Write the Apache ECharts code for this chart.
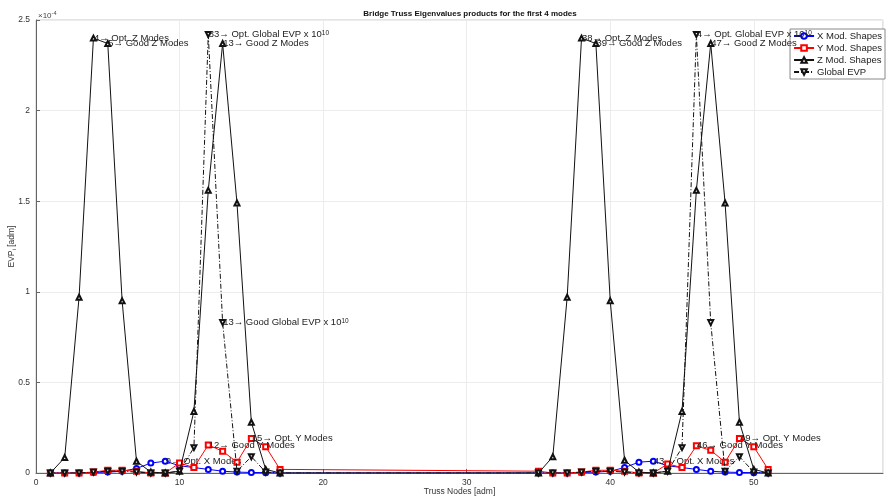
<!DOCTYPE html>
<html>
<head>
<meta charset="utf-8">
<script src="https://cdn.jsdelivr.net/npm/echarts@6/dist/echarts.min.js"></script>
<style>
html,body{margin:0;padding:0;background:#fff;}
#chart{width:888px;height:499px;}
</style>
</head>
<body>
<div id="chart"></div>
<script>
// Truss nodes (two bridge groups)
const nodes = [1,2,3,4,5,6,7,8,9,10,11,12,13,14,15,16,17,
               35,36,37,38,39,40,41,42,43,44,45,46,47,48,49,50,51];
// values in units of 1e-4
const xModes = [0,0,0,0.003,0.005,0.01,0.025,0.055,0.065,0.04,0.03,0.02,0.01,0.005,0.003,0.002,0,
                0,0,0,0.003,0.005,0.01,0.03,0.06,0.065,0.04,0.03,0.02,0.01,0.005,0.003,0.002,0];
const yModes = [0,0,0,0.005,0.015,0.015,0.01,0,0,0.055,0.03,0.155,0.12,0.06,0.19,0.145,0.02,
                0.01,0,0,0.005,0.015,0.015,0.01,0,0,0.05,0.03,0.15,0.125,0.06,0.19,0.145,0.02];
const zModes = [0,0.085,0.97,2.40,2.37,0.95,0.065,0.005,0,0.01,0.34,1.56,2.37,1.49,0.28,0.02,0,
                0,0.09,0.97,2.40,2.37,0.95,0.07,0.005,0,0.01,0.34,1.56,2.37,1.49,0.28,0.02,0];
const globalEVP = [0,0,0,0.005,0.01,0.01,0.005,0,0,0.01,0.14,2.42,0.83,0.01,0.09,0.005,0,
                   0,0,0,0.005,0.01,0.01,0.005,0,0,0.01,0.14,2.42,0.83,0.01,0.09,0.005,0];
const seriesNames = ['X Mod. Shapes','Y Mod. Shapes','Z Mod. Shapes','Global EVP'];
const titleText = 'Bridge Truss Eigenvalues products for the first 4 modes';
const yTicks = [0,0.5,1,1.5,2,2.5];

// annotations: [seriesIndex, node, text]
const annotations = [
  [2, 4, '4\u2192 Opt. Z Modes'],
  [2, 5, '5\u2192 Good Z Modes'],
  [3, 12, '33\u2192 Opt. Global EVP x 10{sup|10}'],
  [2, 13, '13\u2192 Good Z Modes'],
  [3, 13, '13\u2192 Good Global EVP x 10{sup|10}'],
  [0, 9, '9\u2192 Opt. X Modes'],
  [1, 12, '12\u2192 Good Y Modes'],
  [1, 15, '15\u2192 Opt. Y Modes'],
  [2, 38, '38\u2192 Opt. Z Modes'],
  [2, 39, '39\u2192 Good Z Modes'],
  [3, 46, '4\u2192 Opt. Global EVP x 10{sup|10}'],
  [2, 47, '47\u2192 Good Z Modes'],
  [0, 43, '43\u2192 Opt. X Modes'],
  [1, 46, '46\u2192 Good Y Modes'],
  [1, 49, '49\u2192 Opt. Y Modes']
];

const FONT = 'Liberation Sans, Arial, Helvetica, sans-serif';
const allVals = [xModes, yModes, zModes, globalEVP];

function buildData(si) {
  return nodes.map((n, i) => {
    const ann = annotations.find(a => a[0] === si && a[1] === n);
    const item = { value: [n, allVals[si][i]] };
    if (ann) {
      item.label = {
        show: true, position: 'right', distance: -3,
        formatter: ann[2], fontFamily: FONT, fontSize: 9.5, color: '#222',
        rich: { sup: { fontSize: 6.5, verticalAlign: 'top', lineHeight: 8, padding: [0,0,6,0], fontFamily: FONT, color: '#222' } }
      };
    }
    return item;
  });
}

const chart = echarts.init(document.getElementById('chart'), null, {renderer: 'canvas'});
const option = {
  animation: false,
  backgroundColor: '#fff',
  title: {
    text: titleText, left: 465, top: 5, textAlign: 'center',
    textStyle: { fontFamily: FONT, fontSize: 8, fontWeight: 'bold', color: '#111' }
  },
  legend: {
    orient: 'vertical', right: 3, top: 29,
    data: seriesNames,
    backgroundColor: '#fff', borderColor: '#888', borderWidth: 1,
    padding: [2, 3, 2, 3], itemGap: 2, itemWidth: 20, itemHeight: 7,
    itemStyle: { borderWidth: 1 },
    textStyle: { fontFamily: FONT, fontSize: 9.5, color: '#222', padding: [0,0,0,-2] }
  },
  grid: { left: 36, right: 5, top: 20, bottom: 26, containLabel: false, outerBoundsMode: 'none',
          show: true, borderColor: '#c8c8c8', borderWidth: 1 },
  xAxis: {
    type: 'value', min: 0, max: 59, interval: 10,
    name: 'Truss Nodes [adm]', nameLocation: 'middle', nameGap: 14, nameMoveOverlap: false,
    nameTextStyle: { fontFamily: FONT, fontSize: 8.5, color: '#333' },
    axisLine: { show: true, onZero: false, lineStyle: { color: '#666', width: 1 } },
    axisTick: { show: true, inside: true, length: 4, lineStyle: { color: '#666' } },
    axisLabel: { fontFamily: FONT, fontSize: 8.5, color: '#333', margin: 5, showMaxLabel: false },
    splitLine: { show: true, lineStyle: { color: '#ececec', width: 1 } }
  },
  yAxis: {
    type: 'value', min: 0, max: 2.5, interval: 0.5,
    name: 'EVP{sub|i} [adm]', nameLocation: 'middle', nameGap: 19, nameRotate: 90, nameMoveOverlap: false,
    nameTextStyle: { fontFamily: FONT, fontSize: 8.5, color: '#333',
      rich: { sub: { fontSize: 6, verticalAlign: 'bottom', padding: [4,0,0,0], fontFamily: FONT, color: '#333' } } },
    axisLine: { show: true, lineStyle: { color: '#666', width: 1 } },
    axisTick: { show: true, inside: true, length: 4, lineStyle: { color: '#666' } },
    axisLabel: { fontFamily: FONT, fontSize: 8.5, color: '#333', margin: 6,
      formatter: v => (yTicks.indexOf(v) >= 0 ? String(v) : '') },
    splitLine: { show: true, lineStyle: { color: '#ececec', width: 1 } }
  },
  graphic: [{
    type: 'text', left: 38, top: 10,
    style: { text: '\u00d710{sup|-4}', fontFamily: FONT, fontSize: 8, fill: '#444',
      rich: { sup: { fontSize: 5.5, verticalAlign: 'top', padding: [0,0,5,0], fontFamily: FONT, fill: '#444' } } }
  }],
  series: [
    { name: seriesNames[0], type: 'line', data: buildData(0), color: '#0000ff',
      symbol: 'emptyCircle', symbolSize: 5, lineStyle: { width: 1, color: '#0000ff' },
      itemStyle: { color: '#0000ff', borderWidth: 1 }, z: 2 },
    { name: seriesNames[1], type: 'line', data: buildData(1), color: '#ff0000',
      symbol: 'emptyRect', symbolSize: 5, lineStyle: { width: 1, color: '#ff0000' },
      itemStyle: { color: '#ff0000', borderWidth: 1 }, z: 3 },
    { name: seriesNames[2], type: 'line', data: buildData(2), color: '#000',
      symbol: 'emptyTriangle', symbolSize: 5, lineStyle: { width: 1, color: '#111' },
      itemStyle: { color: '#111', borderWidth: 1 }, z: 4 },
    { name: seriesNames[3], type: 'line', data: buildData(3), color: '#000',
      symbol: 'emptyTriangle', symbolRotate: 180, symbolSize: 5,
      lineStyle: { width: 1, color: '#111', type: [5, 2, 1, 2] },
      itemStyle: { color: '#111', borderWidth: 1 }, z: 5 }
  ]
};
chart.setOption(option);
</script>
</body>
</html>
